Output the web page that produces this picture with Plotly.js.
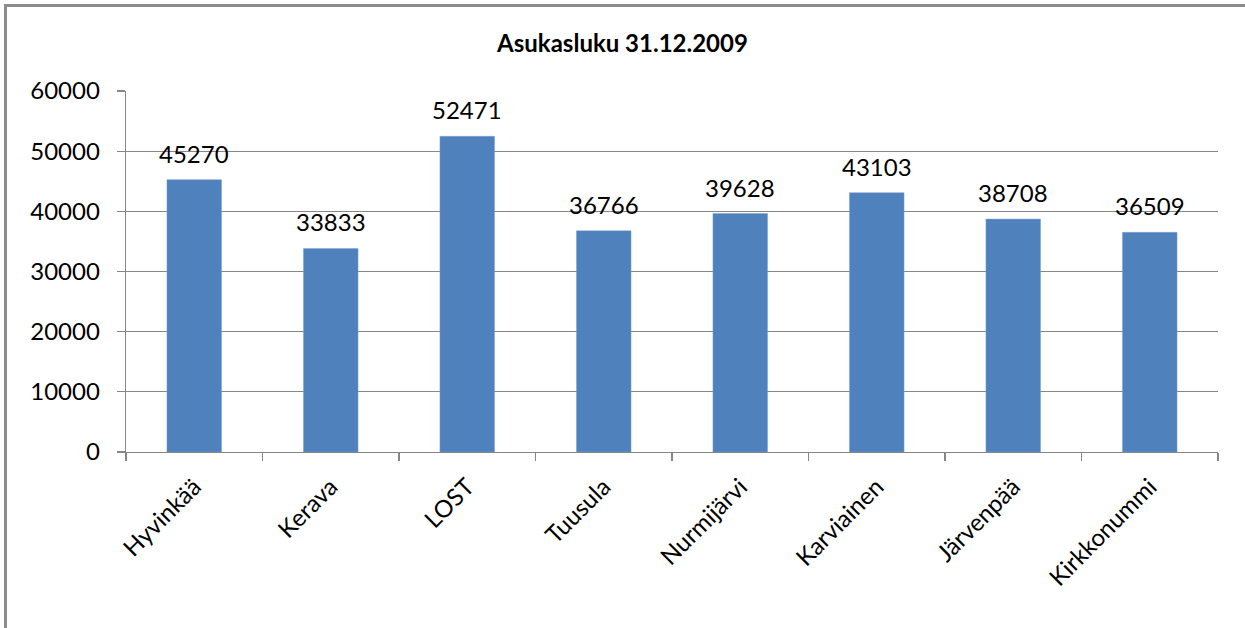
<!DOCTYPE html>
<html>
<head>
<meta charset="utf-8">
<script src="https://cdn.plot.ly/plotly-3.0.1.min.js"></script>
<style>
html,body{margin:0;padding:0;background:#fff;}
#chart{width:1245px;height:628px;position:absolute;left:0;top:0;}
#frame{position:absolute;left:4px;top:4px;width:1245px;height:628px;border-top:3px solid #8c8c8c;border-left:3px solid #8c8c8c;pointer-events:none;box-sizing:border-box;}
</style>
</head>
<body>
<div id="chart"></div>
<div id="frame"></div>
<script>
const categories = ["Hyvinkää", "Kerava", "LOST", "Tuusula", "Nurmijärvi", "Karviainen", "Järvenpää", "Kirkkonummi"];
const population = [45270, 33833, 52471, 36766, 39628, 43103, 38708, 36509];
const yTicks = [0, 10000, 20000, 30000, 40000, 50000, 60000];
const chartTitle = "Asukasluku 31.12.2009";

const FONT = "Lato, 'Open Sans', sans-serif";

const labels = categories.map((c, i) => ({
  x: c, y: population[i], xref: "x", yref: "y",
  text: String(population[i]),
  showarrow: false, yanchor: "bottom", xanchor: "center",
  yshift: 10,
  font: {family: FONT, size: 24, color: "#000"}
}));

Plotly.newPlot("chart", [{
  type: "bar",
  x: categories,
  y: population,
  marker: {color: "#4F81BD", line: {color: "#7fa3d1", width: 0.5}},
  hoverinfo: "none"
}], {
  width: 1245, height: 628,
  margin: {l: 126, r: 27, t: 91, b: 176},
  paper_bgcolor: "#fff", plot_bgcolor: "#fff",
  bargap: 0.6,
  showlegend: false,
  annotations: labels,
  title: {text: "<b>" + chartTitle + "</b>", font: {family: FONT, size: 24, color: "#000"}, x: 0.5, xanchor: "center", y: 0.93, yanchor: "middle"},
  xaxis: {
    type: "category",
    tickangle: -45,
    tickson: "boundaries",
    ticks: "outside", ticklen: 8, tickcolor: "#868686", tickwidth: 1.3,
    ticklabelstandoff: 10,
    showline: true, linecolor: "#868686", linewidth: 1.3,
    showgrid: false,
    tickfont: {family: FONT, size: 24, color: "#000"}
  },
  yaxis: {
    range: [0, 60000],
    tickvals: yTicks,
    ticktext: yTicks.map(String),
    ticks: "outside", ticklen: 8, tickcolor: "#868686", tickwidth: 1.3,
    ticklabelstandoff: 12,
    showline: true, linecolor: "#868686", linewidth: 1.3,
    showgrid: true, gridcolor: "#868686", gridwidth: 1.3,
    zeroline: false,
    tickfont: {family: FONT, size: 24, color: "#000"}
  }
}, {staticPlot: true});
</script>
</body>
</html>
